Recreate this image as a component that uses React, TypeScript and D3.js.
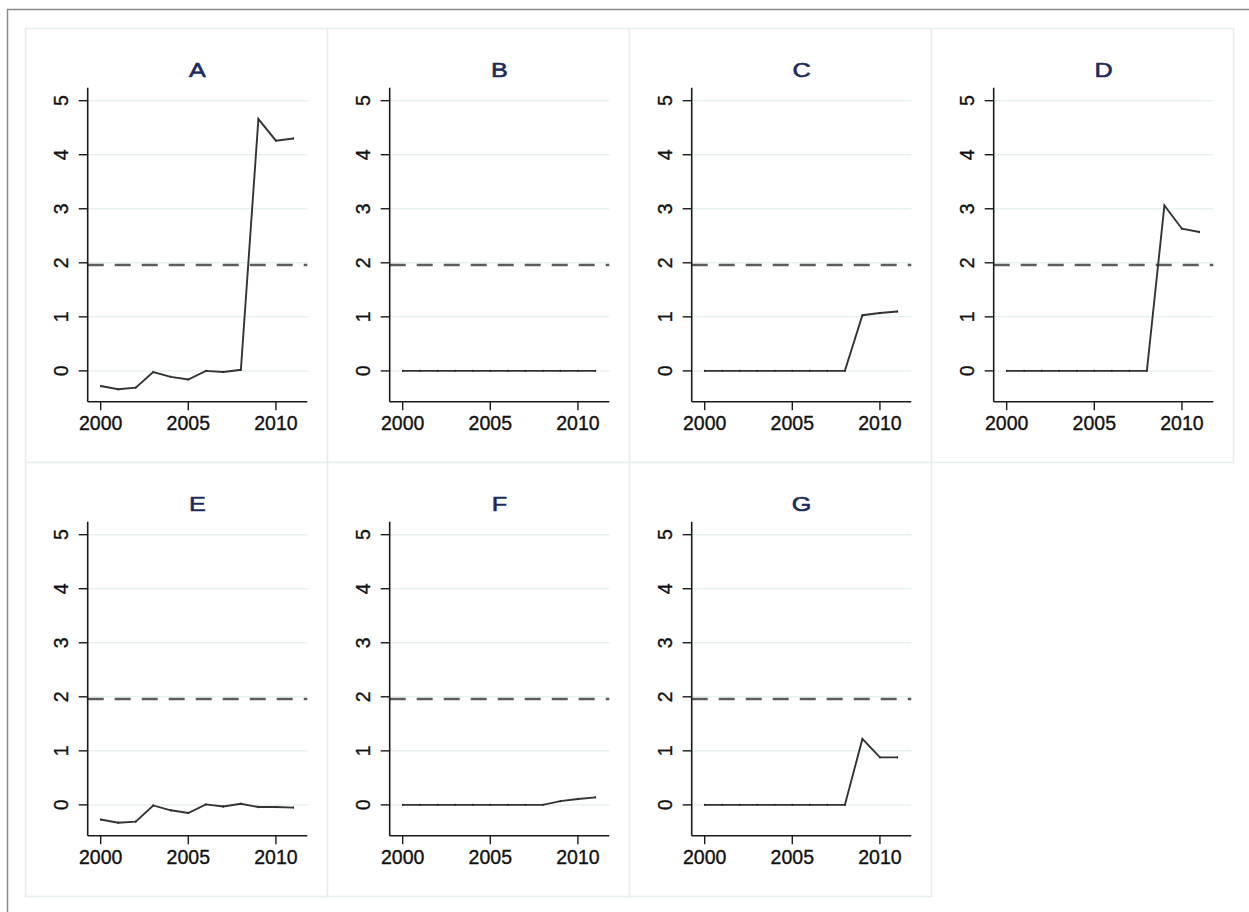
import React from 'react';
import * as d3 from 'd3';

// values
const years = [2000, 2001, 2002, 2003, 2004, 2005, 2006, 2007, 2008, 2009, 2010, 2011];
const panelLabels = ['A', 'B', 'C', 'D', 'E', 'F', 'G'];
const seriesA = [-0.28, -0.34, -0.31, -0.02, -0.11, -0.16, 0.0, -0.02, 0.02, 4.66, 4.26, 4.3];
const seriesB = [0, 0, 0, 0, 0, 0, 0, 0, 0, 0, 0, 0];
const seriesC = [0, 0, 0, 0, 0, 0, 0, 0, 0, 1.03, 1.07, 1.1];
const seriesD = [0, 0, 0, 0, 0, 0, 0, 0, 0, 3.06, 2.63, 2.57];
const seriesE = [-0.27, -0.33, -0.31, -0.01, -0.1, -0.15, 0.01, -0.03, 0.02, -0.04, -0.04, -0.05];
const seriesF = [0, 0, 0, 0, 0, 0, 0, 0, 0, 0.07, 0.11, 0.14];
const seriesG = [0, 0, 0, 0, 0, 0, 0, 0, 0, 1.22, 0.88, 0.88];
const allSeries = [seriesA, seriesB, seriesC, seriesD, seriesE, seriesF, seriesG];
const yTicks = [0, 1, 2, 3, 4, 5];
const xTicks = [2000, 2005, 2010];
const criticalValue = 1.96;

const W = 1249;
const H = 912;
const panelW = 302;
const panelH = 434;
const originX = 25;
const originY = 28;
const m = { left: 62.7, right: panelW - 282.3, top: 59.7, bottom: panelH - 373.7 };
const font = '"Liberation Sans", Arial, Helvetica, sans-serif';

const x = d3.scaleLinear().domain([1999.26, 2011.79]).range([m.left, panelW - m.right]);
const y = d3.scaleLinear().domain([-0.57, 5.24]).range([panelH - m.bottom, m.top]);

const Panel = ({ label, values, col, row }) => {
  const line = d3.line<number>()
    .x((_, i) => x(years[i]))
    .y(d => y(d));
  const x0 = x.range()[0];
  const x1 = x.range()[1];
  const yb = y.range()[0];
  const yt = y.range()[1];
  const cx = (x0 + x1) / 2;
  return (
    <g transform={`translate(${originX + col * panelW},${originY + row * panelH})`}>
      <rect x={0.5} y={0.5} width={panelW} height={panelH} fill="#fff" stroke="#e6efef" strokeWidth={1.5} />
      <text transform={`translate(${cx},49) scale(1.2,1)`} textAnchor="middle" fontFamily={font}
        fontSize={21} fill="#1c2b5a" stroke="#1c2b5a" strokeWidth={0.6}>{label}</text>
      {yTicks.map(t => (
        <line key={'g' + t} x1={x0} x2={x1} y1={y(t)} y2={y(t)} stroke="#e8f1f2" strokeWidth={1.5} />
      ))}
      <line x1={x0} x2={x1} y1={y(criticalValue)} y2={y(criticalValue)}
        stroke="#5c5c5c" strokeWidth={2.6} strokeDasharray="16,11" />
      <path d={line(values) || ''} fill="none" stroke="#333" strokeWidth={1.9} strokeLinejoin="miter" />
      {values.map((v, i) => (
        <rect key={'p' + i} x={x(years[i]) - 0.6} y={y(v) - 1.1} width={1.2} height={2.2} fill="#2a2a2a" />
      ))}
      <line x1={x0} x2={x0} y1={yt} y2={yb} stroke="#1a1a1a" strokeWidth={1.6} />
      <line x1={x0} x2={x1} y1={yb} y2={yb} stroke="#1a1a1a" strokeWidth={1.6} />
      {yTicks.map(t => (
        <g key={'y' + t}>
          <line x1={x0 - 9} x2={x0} y1={y(t)} y2={y(t)} stroke="#1a1a1a" strokeWidth={1.4} />
          <text transform={`translate(${x0 - 19.5},${y(t)}) rotate(-90)`} textAnchor="middle"
            fontFamily={font} fontSize={19.5} fill="#111" stroke="#111" strokeWidth={0.35}>{t}</text>
        </g>
      ))}
      {xTicks.map(t => (
        <g key={'x' + t}>
          <line x1={x(t)} x2={x(t)} y1={yb} y2={yb + 8.5} stroke="#1a1a1a" strokeWidth={1.4} />
          <text x={x(t)} y={yb + 28.5} textAnchor="middle" fontFamily={font} fontSize={19.5}
            fill="#111" stroke="#111" strokeWidth={0.35}>{t}</text>
        </g>
      ))}
    </g>
  );
};

export default function App() {
  return (
    <svg width={W} height={H} style={{ position: 'absolute', left: 0, top: 0, background: '#fff' }}>
      <rect x={0} y={0} width={W} height={H} fill="#fff" />
      <line x1={7} x2={W} y1={9.5} y2={9.5} stroke="#8a8a8a" strokeWidth={1.5} />
      <line x1={7.5} x2={7.5} y1={9} y2={H} stroke="#8a8a8a" strokeWidth={1.5} />
      {panelLabels.map((lab, i) => (
        <Panel key={lab} label={lab} values={allSeries[i]} col={i % 4} row={Math.floor(i / 4)} />
      ))}
    </svg>
  );
}
